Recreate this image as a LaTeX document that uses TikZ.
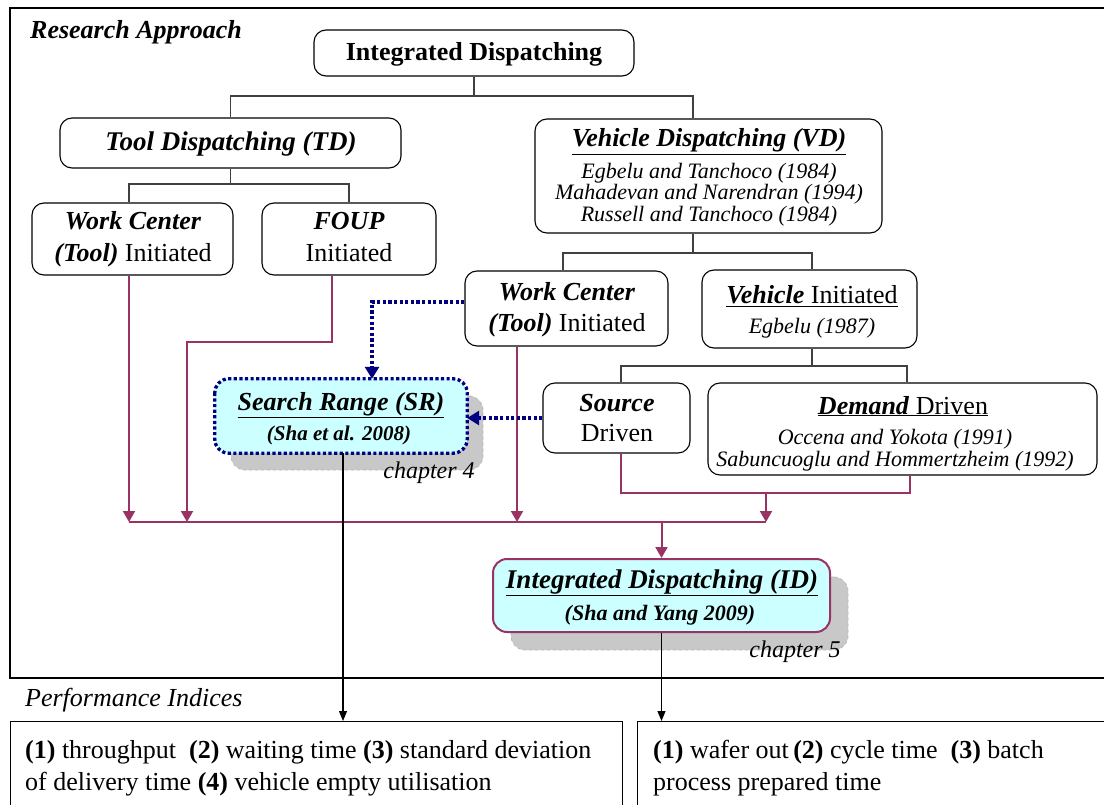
\documentclass[tikz,border=0pt]{standalone}
\usepackage{fontspec}
\setmainfont{Liberation Serif}
\usetikzlibrary{arrows.meta,calc}
\definecolor{wineline}{HTML}{993366}
\definecolor{navyline}{HTML}{000080}
\definecolor{palecyan}{HTML}{CCFFFF}
\definecolor{shadegray}{HTML}{C8C8C8}
\tikzset{
  box/.style={draw, line width=1.1pt, rounded corners=12pt, inner sep=0pt, fill=white},
  hibox/.style={rounded corners=14pt, inner sep=0pt, fill=palecyan},
  shadebox/.style={rounded corners=14pt, inner sep=0pt, fill=shadegray, draw=shadegray!92!black, dashed, line width=0.8pt},
  txt/.style={inner sep=0pt, anchor=base},
  fmain/.style={txt, font=\fontsize{26}{30}\selectfont},
  fbi/.style={txt, font=\fontsize{26}{30}\selectfont\bfseries\itshape},
  fref/.style={txt, font=\fontsize{22}{24}\selectfont\itshape},
  tree/.style={line width=1.1pt, draw=black!75},
  wine/.style={line width=2pt, draw=wineline},
  winearrow/.style={wine, -{Triangle[length=11pt,width=12pt]}},
  navydots/.style={line width=3.3pt, draw=navyline, dash pattern=on 3.2pt off 2.4pt},
  navyarrow/.style={navydots, -{Triangle[length=12pt,width=14pt,fill=navyline]}},
  thinarrow/.style={line width=1.1pt, draw=black, -{Triangle[length=10pt,width=8pt]}},
  frame/.style={line width=1.2pt, draw=black},
}
\begin{document}
\begin{tikzpicture}[x=1pt,y=-1pt]
\useasboundingbox (0,0) rectangle (1104,805);

% outer frame of the research approach
\draw[frame] (1120,8) -- (10,8) -- (10,678) -- (1120,678);
\node[fbi, anchor=base west] (ratitle) at (30,39) {Research Approach};

% ---- boxes ----
\node[box, minimum width=320, minimum height=46] (ID) at (474,53) {};
\node[box, minimum width=341, minimum height=50] (TD) at (230.5,143) {};
\node[box, minimum width=347, minimum height=114] (VD) at (708.5,176) {};
\node[box, minimum width=201, minimum height=72] (WC) at (132.5,239) {};
\node[box, minimum width=174, minimum height=72] (FOUP) at (349,239) {};
\node[box, minimum width=203, minimum height=75] (WCV) at (566.5,308.5) {};
\node[box, minimum width=215, minimum height=78] (VI) at (809.5,309) {};
\node[box, minimum width=147, minimum height=70] (SRC) at (616.5,418) {};
\node[box, minimum width=389, minimum height=92] (DEM) at (902.5,429) {};

% search range box with its shadow
\node[shadebox, minimum width=252, minimum height=74] (SRshade) at (357,433) {};
\node[hibox, minimum width=252, minimum height=74] (SR) at (341,416) {};
\draw[navydots, rounded corners=14pt] (SR.north west) rectangle (SR.south east);

% integrated dispatching box with its shadow
\node[shadebox, minimum width=337, minimum height=73] (IDshade) at (679.5,613.5) {};
\node[hibox, draw=wineline, line width=2pt, minimum width=337, minimum height=73] (ID2) at (661.5,595.5) {};

% ---- texts ----
\node[fmain, font=\fontsize{26}{30}\selectfont\bfseries] (tID) at (474,61) {Integrated Dispatching};
\node[fbi, font=\fontsize{27}{30}\selectfont\bfseries\itshape] (tTD) at (231,151) {Tool Dispatching (TD)};

\node[fbi] (tVD) at (709,147) {\underline{Vehicle Dispatching (VD)}};
\node[fref] (tVD1) at (709,178.3) {Egbelu and Tanchoco (1984)};
\node[fref] (tVD2) at (709,200) {Mahadevan and Narendran (1994)};
\node[fref] (tVD3) at (709,221.7) {Russell and Tanchoco (1984)};

\node[fbi] (tWC1) at (133,230) {Work Center};
\node[fmain] (tWC2) at (133,262) {\textbf{\textit{(Tool)}} Initiated};
\node[fbi] (tFO1) at (349,230) {FOUP};
\node[fmain] (tFO2) at (349,262) {Initiated};

\node[fbi] (tWV1) at (567,300.7) {Work Center};
\node[fmain] (tWV2) at (567,331.7) {\textbf{\textit{(Tool)}} Initiated};
\node[fmain] (tVI1) at (812,304) {\underline{\textbf{\textit{Vehicle}} Initiated}};
\node[fref] (tVI2) at (812,333.5) {Egbelu (1987)};

\node[fbi] (tSO1) at (617,411.5) {Source};
\node[fmain] (tSO2) at (617,441.7) {Driven};
\node[fmain] (tDE1) at (903,414) {\underline{\textbf{\textit{Demand}} Driven}};
\node[fref] (tDE2) at (895,444.5) {Occena and Yokota (1991)};
\node[fref] (tDE3) at (895,466.5) {Sabuncuoglu and Hommertzheim (1992)};

\node[fbi] (tSR1) at (341,410.7) {\underline{Search Range (SR)}};
\node[fbi, font=\fontsize{21}{24}\selectfont\bfseries\itshape] (tSR2) at (339,440) {(Sha et al. 2008)};
\node[fmain, font=\fontsize{24}{28}\selectfont\itshape] (tch4) at (429,478) {chapter 4};

\node[fbi, font=\fontsize{27}{30}\selectfont\bfseries\itshape] (tID1) at (662,588.3) {\underline{Integrated Dispatching (ID)}};
\node[fbi, font=\fontsize{22}{26}\selectfont\bfseries\itshape] (tID2) at (660,620) {(Sha and Yang 2009)};
\node[fmain, font=\fontsize{24}{28}\selectfont\itshape] (tch5) at (795,657) {chapter 5};

% ---- tree connectors ----
\coordinate (j1) at (474,96);
\draw[tree] (ID.south) -- (j1);
\draw[tree] (j1) -| (TD.north);
\draw[tree] (j1) -| ([xshift=-15.5pt]VD.north);

\coordinate (j2) at (230.5,184);
\draw[tree] (TD.south) -- (j2);
\draw[tree] (j2) -| ([xshift=-3.5pt]WC.north);
\draw[tree] (j2) -| (FOUP.north);

\coordinate (j3) at (693,253);
\draw[tree] ([xshift=-15.5pt]VD.south) -- (j3);
\draw[tree] (j3) -| ([xshift=-3.5pt]WCV.north);
\draw[tree] (j3) -| ([xshift=2.5pt]VI.north);

\coordinate (j4) at (812,366);
\draw[tree] ([xshift=2.5pt]VI.south) -- (j4);
\draw[tree] (j4) -| ([xshift=4.5pt]SRC.north);
\draw[tree] (j4) -| ([xshift=4.5pt]DEM.north);

% ---- merging lines towards integrated dispatching ----
\coordinate (b1) at (129,522);
\coordinate (b2) at (187,522);
\coordinate (b3) at (517,522);
\coordinate (b4) at (766,522);
\coordinate (bID) at (661.5,522);
\coordinate (f1) at (332,342);
\coordinate (d2) at (910,493);
\coordinate (dm) at (766,493);

\draw[wine] (b1) -- (b4);
\draw[winearrow] ([xshift=-3.5pt]WC.south) -- (b1);
\draw[winearrow] ([xshift=-17pt]FOUP.south) -- (f1) -| (b2);
\draw[winearrow] ([xshift=-49.5pt]WCV.south) -- (b3);
\draw[wine] ([xshift=4.5pt]SRC.south) |- (d2) -- ([xshift=7.5pt]DEM.south);
\draw[winearrow] (dm) -- (b4);
\draw[winearrow] (bID) -- (ID2.north);

% ---- links into the search range ----
\draw[navyarrow] ([yshift=6.5pt]WCV.west) -| ([xshift=31pt]SR.north);
\draw[navyarrow] (SRC.west) -- (SRC.west -| SR.east);

% ---- performance indices ----
\node[fmain, font=\fontsize{26}{30}\selectfont\itshape, anchor=base west] (pititle) at (25,706) {Performance Indices};
\node[draw, frame, inner sep=0pt, minimum width=612, minimum height=120, anchor=north west] (PL) at (10,721) {};
\node[draw, frame, inner sep=0pt, minimum width=490, minimum height=120, anchor=north west] (PR) at (637,721) {};

\draw[thinarrow] ([xshift=2pt]SR.south) -- ([xshift=2pt]SR.south |- PL.north);
\draw[thinarrow] (ID2.south) -- (ID2.south |- PR.north);

\node[fmain, anchor=base west] (pl1) at (25,758) {\textbf{(1)} throughput \ \textbf{(2)} waiting time \textbf{(3)} standard deviation};
\node[fmain, anchor=base west] (pl2) at (25,790) {of delivery time \textbf{(4)} vehicle empty utilisation};
\node[fmain, anchor=base west] (pr1) at (653,758) {\textbf{(1)} wafer out\,\textbf{(2)} cycle time \ \textbf{(3)} batch};
\node[fmain, anchor=base west] (pr2) at (653,790) {process prepared time};
\end{tikzpicture}
\end{document}
